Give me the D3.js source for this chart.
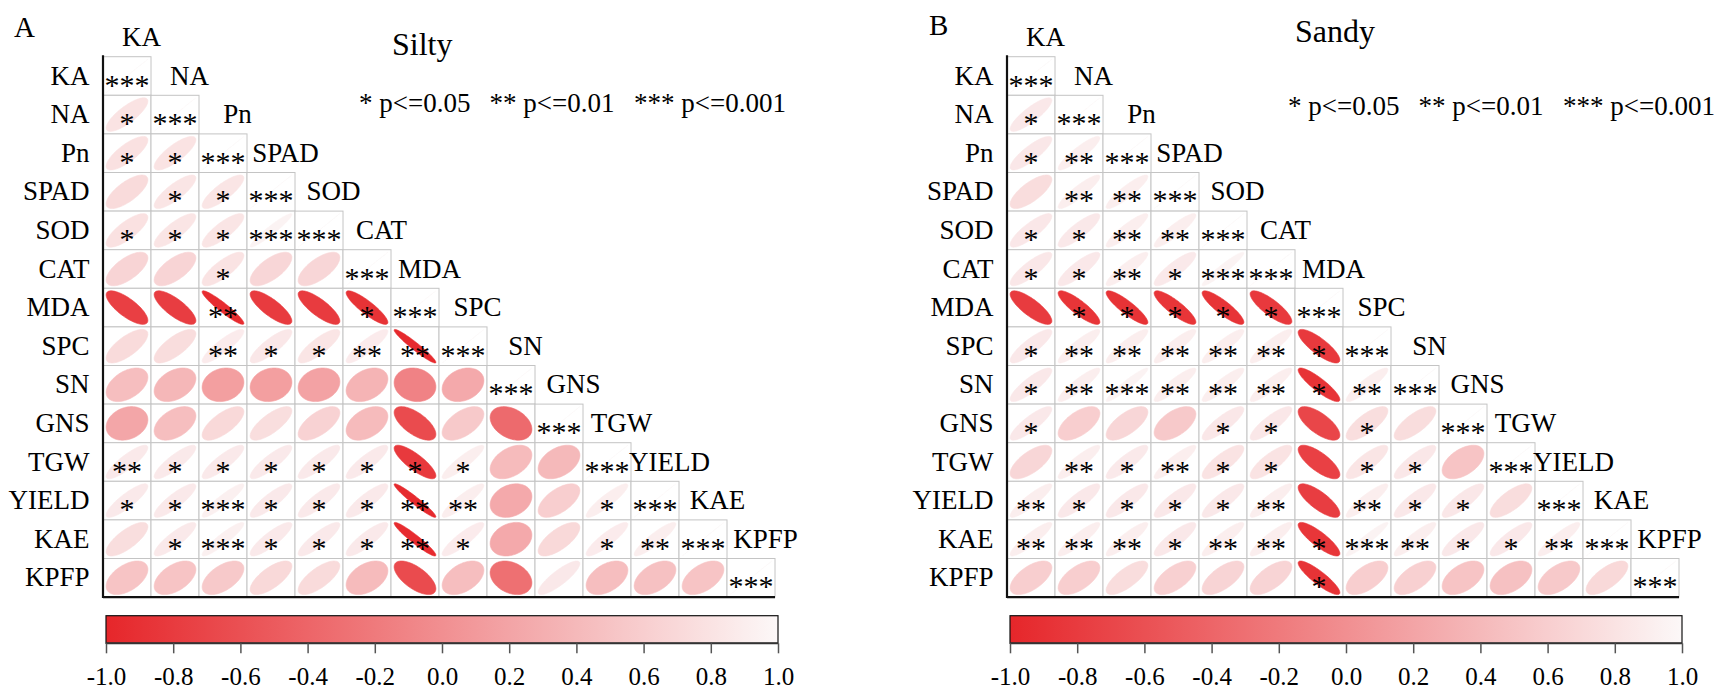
<!DOCTYPE html>
<html>
<head>
<meta charset="utf-8">
<script src="https://cdn.jsdelivr.net/npm/d3@7"></script>
<style>
  body { margin: 0; background: #fff; }
  text { font-family: "Liberation Serif", "Times New Roman", serif; fill: #000; }
</style>
</head>
<body>
<svg id="chart" width="1731" height="691"></svg>
<script>
// -- variables (same order for rows and columns) -- //
let vars = ["KA", "NA", "Pn", "SPAD", "SOD", "CAT", "MDA", "SPC", "SN", "GNS", "TGW", "YIELD", "KAE", "KPFP"];

// -- Silty: lower triangle of correlation values, row by row -- //
let siltyR = [
    [1],
    [0.80, 1],
    [0.78, 0.80, 1],
    [0.72, 0.82, 0.82, 1],
    [0.78, 0.82, 0.82, 0.95, 1],
    [0.66, 0.66, 0.80, 0.68, 0.68, 1],
    [-0.76, -0.78, -0.94, -0.80, -0.80, -0.88, 1],
    [0.72, 0.74, 0.88, 0.84, 0.82, 0.88, -0.96, 1],
    [0.45, 0.38, 0.15, 0.15, 0.18, 0.35, -0.12, 0.25, 1],
    [0.22, 0.45, 0.70, 0.75, 0.64, 0.42, -0.65, 0.55, -0.35, 1],
    [0.86, 0.86, 0.86, 0.86, 0.86, 0.86, -0.82, 0.90, 0.42, 0.40, 1],
    [0.86, 0.86, 0.92, 0.86, 0.86, 0.86, -0.96, 0.90, 0.25, 0.60, 0.90, 1],
    [0.75, 0.86, 0.92, 0.86, 0.86, 0.86, -0.95, 0.88, 0.25, 0.70, 0.88, 0.90, 1],
    [0.50, 0.50, 0.55, 0.70, 0.72, 0.42, -0.65, 0.45, -0.30, 0.85, 0.45, 0.48, 0.50, 1]
];
let siltySig = [
    ["***"],
    ["*", "***"],
    ["*", "*", "***"],
    ["", "*", "*", "***"],
    ["*", "*", "*", "***", "***"],
    ["", "", "*", "", "", "***"],
    ["", "", "**", "", "", "*", "***"],
    ["", "", "**", "*", "*", "**", "**", "***"],
    ["", "", "", "", "", "", "", "", "***"],
    ["", "", "", "", "", "", "", "", "", "***"],
    ["**", "*", "*", "*", "*", "*", "*", "*", "", "", "***"],
    ["*", "*", "***", "*", "*", "*", "**", "**", "", "", "*", "***"],
    ["", "*", "***", "*", "*", "*", "**", "*", "", "", "*", "**", "***"],
    ["", "", "", "", "", "", "", "", "", "", "", "", "", "***"]
];

// -- Sandy -- //
let sandyR = [
    [1],
    [0.85, 1],
    [0.84, 0.90, 1],
    [0.74, 0.90, 0.90, 1],
    [0.84, 0.85, 0.90, 0.90, 1],
    [0.84, 0.85, 0.90, 0.86, 0.95, 1],
    [-0.80, -0.86, -0.88, -0.86, -0.87, -0.82, 1],
    [0.85, 0.90, 0.90, 0.90, 0.90, 0.90, -0.82, 1],
    [0.85, 0.90, 0.95, 0.90, 0.90, 0.90, -0.88, 0.90, 1],
    [0.85, 0.60, 0.68, 0.55, 0.84, 0.84, -0.70, 0.75, 0.74, 1],
    [0.68, 0.90, 0.86, 0.90, 0.80, 0.80, -0.75, 0.82, 0.84, 0.50, 1],
    [0.90, 0.85, 0.85, 0.85, 0.85, 0.90, -0.78, 0.90, 0.85, 0.84, 0.74, 1],
    [0.90, 0.90, 0.90, 0.85, 0.90, 0.90, -0.85, 0.95, 0.90, 0.85, 0.85, 0.90, 1],
    [0.60, 0.60, 0.74, 0.62, 0.66, 0.66, -0.88, 0.60, 0.62, 0.50, 0.48, 0.55, 0.70, 1]
];
let sandySig = [
    ["***"],
    ["*", "***"],
    ["*", "**", "***"],
    ["", "**", "**", "***"],
    ["*", "*", "**", "**", "***"],
    ["*", "*", "**", "*", "***", "***"],
    ["", "*", "*", "*", "*", "*", "***"],
    ["*", "**", "**", "**", "**", "**", "*", "***"],
    ["*", "**", "***", "**", "**", "**", "*", "**", "***"],
    ["*", "", "", "", "*", "*", "", "*", "", "***"],
    ["", "**", "*", "**", "*", "*", "", "*", "*", "", "***"],
    ["**", "*", "*", "*", "*", "**", "", "**", "*", "*", "", "***"],
    ["**", "**", "**", "*", "**", "**", "*", "***", "**", "*", "*", "**", "***"],
    ["", "", "", "", "", "", "*", "", "", "", "", "", "", "***"]
];

let colorTicks = [-1.0, -0.8, -0.6, -0.4, -0.2, 0.0, 0.2, 0.4, 0.6, 0.8, 1.0];
let legendParts = ["* p<=0.05", "** p<=0.01", "*** p<=0.001"];

let svg = d3.select("#chart");
let color = d3.scaleLinear().domain([-1, 1]).range(["#e6262a", "#fcf8f8"]).interpolate(d3.interpolateRgb);

// -- corrplot style ellipse outline for one correlation -- //
let ellipsePath = (rho, w, h) => {
    let a = Math.acos(Math.max(-1, Math.min(1, rho)));
    let pts = d3.range(99).map(i => {
        let k = i / 98 * 2 * Math.PI;
        return [Math.cos(k + a / 2) / 2 * w, -Math.cos(k - a / 2) / 2 * h];
    });
    return d3.line().curve(d3.curveLinearClosed)(pts);
};

let drawPanel = (layer, p) => {
    let x = d3.scaleBand().domain(vars).range([p.left, p.left + 672]);
    let y = d3.scaleBand().domain(vars).range([p.top, p.top + 540.4]);
    let cw = x.bandwidth(), ch = y.bandwidth();

    let cells = [];
    p.r.forEach((row, i) => row.forEach((v, j) => cells.push({ row: vars[i], col: vars[j], r: v, sig: p.sig[i][j] })));

    // -- cell background + grey grid -- //
    layer.selectAll(".cell")
        .data(cells)
        .enter()
        .append("rect")
        .attr("class", "cell")
        .attr("x", d => x(d.col))
        .attr("y", d => y(d.row))
        .attr("width", cw)
        .attr("height", ch)
        .style("fill", "white")
        .style("stroke", "#c4c4c4")
        .style("stroke-width", 1);

    // -- ellipses -- //
    layer.selectAll(".ell")
        .data(cells)
        .enter()
        .append("path")
        .attr("class", "ell")
        .attr("transform", d => `translate(${x(d.col) + cw / 2}, ${y(d.row) + ch / 2})`)
        .attr("d", d => ellipsePath(d.r, cw * 0.87, ch * 0.87))
        .style("fill", d => color(d.r))
        .style("stroke", d => color(d.r))
        .style("stroke-width", 0.6);

    // -- significance stars -- //
    layer.selectAll(".sig")
        .data(cells.filter(d => d.sig !== ""))
        .enter()
        .append("text")
        .attr("class", "sig")
        .attr("x", d => x(d.col) + cw / 2)
        .attr("y", d => y(d.row) + ch / 2 + 18.5)
        .attr("text-anchor", "middle")
        .style("font-size", "30px")
        .text(d => d.sig);

    // -- left and bottom frame -- //
    layer.append("line")
        .attr("x1", p.left).attr("x2", p.left)
        .attr("y1", p.top - 1.5).attr("y2", p.top + 541.4)
        .style("stroke", "#111").style("stroke-width", 2.2);
    layer.append("line")
        .attr("x1", p.left).attr("x2", p.left + 672)
        .attr("y1", p.top + 540.4).attr("y2", p.top + 540.4)
        .style("stroke", "#111").style("stroke-width", 2.2);

    // -- row labels -- //
    layer.selectAll(".rowLab")
        .data(vars)
        .enter()
        .append("text")
        .attr("class", "rowLab")
        .attr("x", p.left - 13.5)
        .attr("y", d => y(d) + ch / 2 + 8.5)
        .attr("text-anchor", "end")
        .style("font-size", "27px")
        .text(d => d);

    // -- top labels, staircase above the diagonal -- //
    layer.selectAll(".colLab")
        .data(vars)
        .enter()
        .append("text")
        .attr("class", "colLab")
        .attr("x", d => x(d) + cw / 2 + 14.5)
        .attr("y", (d, i) => p.top + (i - 0.5) * ch + 8.5)
        .attr("text-anchor", "middle")
        .style("font-size", "27px")
        .text(d => d);

    // -- panel letter, title, legend -- //
    layer.append("text")
        .attr("x", p.letterX).attr("y", p.letterY)
        .style("font-size", "29px")
        .text(p.letter);
    layer.append("text")
        .attr("x", p.titleX).attr("y", p.titleY)
        .style("font-size", "32px")
        .text(p.title);
    layer.selectAll(".leg")
        .data(legendParts)
        .enter()
        .append("text")
        .attr("class", "leg")
        .attr("x", (d, i) => p.legendX + [0, 130.5, 275][i])
        .attr("y", p.legendY)
        .style("font-size", "27px")
        .text(d => d);

    // -- colour bar -- //
    let cbX = d3.scaleLinear().domain([-1, 1]).range([p.left + 3, p.left + 675]);
    let cbTop = 615.7, cbBot = 643.3;
    let gid = "grad" + p.letter;
    let grad = layer.append("defs").append("linearGradient").attr("id", gid)
        .attr("x1", "0%").attr("x2", "100%");
    grad.selectAll("stop")
        .data(colorTicks)
        .enter()
        .append("stop")
        .attr("offset", d => `${(d + 1) / 2 * 100}%`)
        .attr("stop-color", d => color(d));
    layer.append("rect")
        .attr("x", cbX(-1)).attr("y", cbTop)
        .attr("width", cbX(1) - cbX(-1)).attr("height", cbBot - cbTop)
        .style("fill", `url(#${gid})`)
        .style("stroke", "#111").style("stroke-width", 1.2);
    layer.append("line")
        .attr("x1", cbX(-1)).attr("x2", cbX(1))
        .attr("y1", cbBot).attr("y2", cbBot)
        .style("stroke", "#333").style("stroke-width", 2);

    let cbAxis = d3.axisBottom(cbX).tickValues(colorTicks).tickSize(10).tickPadding(14)
        .tickFormat(d3.format(".1f"));
    let ax = layer.append("g")
        .attr("transform", `translate(0, ${cbBot})`)
        .call(cbAxis);
    ax.select(".domain").remove();
    ax.selectAll("line").style("stroke", "#555").style("stroke-width", 1.5);
    ax.selectAll("text")
        .style("font-size", "25px")
        .style("font-family", "'Liberation Serif', 'Times New Roman', serif")
        .attr("fill", "#000")
        .text(d => d3.format(".1f")(d).replace("−", "-"));
};

drawPanel(svg.append("g"), {
    r: siltyR, sig: siltySig, left: 103, top: 56.7,
    letter: "A", letterX: 14, letterY: 36.7,
    title: "Silty", titleX: 392, titleY: 55,
    legendX: 359, legendY: 111.7
});
drawPanel(svg.append("g"), {
    r: sandyR, sig: sandySig, left: 1007, top: 56.7,
    letter: "B", letterX: 929, letterY: 35,
    title: "Sandy", titleX: 1295, titleY: 41.7,
    legendX: 1288, legendY: 115
});
</script>
</body>
</html>
